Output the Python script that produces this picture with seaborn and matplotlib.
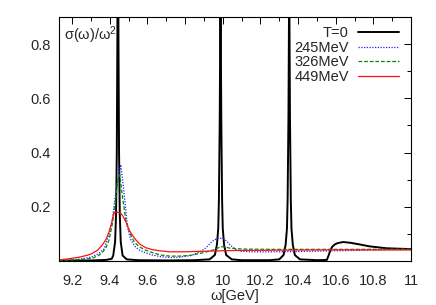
import matplotlib
matplotlib.use("Agg")
import matplotlib.pyplot as plt
import seaborn as sns
import pandas as pd
from matplotlib.ticker import MultipleLocator

# omega [GeV] and sigma/omega^2
omega_T0 = [9.13, 9.30, 9.38, 9.41, 9.418, 9.428, 9.433, 9.437, 9.44, 9.443, 9.446, 9.449,
            9.453, 9.458, 9.468, 9.49, 9.55, 9.70, 9.85, 9.93, 9.958, 9.969, 9.976, 9.9795,
            9.984, 9.988, 9.992, 9.9965, 10.0, 10.007, 10.018, 10.048, 10.10, 10.25, 10.30,
            10.323, 10.334, 10.341, 10.3445, 10.349, 10.353, 10.357, 10.3615, 10.365, 10.372,
            10.383, 10.41, 10.50, 10.553, 10.562, 10.572, 10.582, 10.595, 10.61, 10.64, 10.68,
            10.72, 10.78, 10.87, 10.95, 11.0]
sigma_T0 = [0.001, 0.002, 0.004, 0.008, 0.02, 0.07, 0.17, 0.4, 0.8, 1.6, 0.8, 0.4,
            0.17, 0.07, 0.02, 0.006, 0.003, 0.002, 0.003, 0.006, 0.022, 0.06, 0.12, 0.225,
            0.53, 1.05, 0.53, 0.225, 0.12, 0.06, 0.022, 0.006, 0.003, 0.003, 0.006,
            0.022, 0.06, 0.12, 0.225, 0.53, 1.05, 0.53, 0.225, 0.12, 0.06,
            0.022, 0.006, 0.003, 0.004, 0.02, 0.04, 0.053, 0.061, 0.066, 0.070, 0.067,
            0.062, 0.054, 0.047, 0.045, 0.044]

omega_245 = [9.13, 9.20, 9.25, 9.30, 9.34, 9.37, 9.396, 9.414, 9.431, 9.449, 9.458, 9.47,
             9.485, 9.493, 9.511, 9.535, 9.555, 9.59, 9.626, 9.67, 9.72, 9.77, 9.83, 9.88,
             9.91, 9.933, 9.955, 9.977, 9.995, 10.013, 10.03, 10.049, 10.07, 10.093, 10.15,
             10.25, 10.40, 10.55, 10.70, 10.85, 11.0]
sigma_245 = [0.002, 0.004, 0.008, 0.014, 0.027, 0.045, 0.1, 0.158, 0.25, 0.324, 0.355, 0.287,
             0.188, 0.127, 0.078, 0.053, 0.041, 0.03, 0.022, 0.016, 0.013, 0.014, 0.02, 0.034,
             0.048, 0.065, 0.078, 0.084, 0.083, 0.078, 0.066, 0.053, 0.042, 0.036, 0.034,
             0.034, 0.035, 0.037, 0.039, 0.041, 0.042]

omega_326 = [9.13, 9.20, 9.25, 9.307, 9.34, 9.36, 9.38, 9.396, 9.414, 9.431, 9.443, 9.453,
             9.467, 9.485, 9.511, 9.53, 9.555, 9.59, 9.626, 9.67, 9.72, 9.77, 9.83, 9.88,
             9.92, 9.951, 9.975, 9.99, 10.01, 10.04, 10.11, 10.25, 10.50, 10.75, 11.0]
sigma_326 = [0.002, 0.004, 0.006, 0.01, 0.02, 0.031, 0.05, 0.078, 0.139, 0.225, 0.305, 0.318,
             0.238, 0.151, 0.096, 0.07, 0.053, 0.04, 0.031, 0.022, 0.018, 0.018, 0.021, 0.028,
             0.035, 0.041, 0.048, 0.053, 0.052, 0.047, 0.044, 0.043, 0.043, 0.043, 0.044]

omega_449 = [9.13, 9.18, 9.236, 9.28, 9.307, 9.335, 9.36, 9.38, 9.396, 9.41, 9.423, 9.44,
             9.458, 9.47, 9.485, 9.502, 9.52, 9.538, 9.56, 9.591, 9.625, 9.662, 9.715, 9.80,
             9.90, 10.0, 10.1, 10.3, 10.6, 11.0]
sigma_449 = [0.004, 0.008, 0.014, 0.021, 0.028, 0.04, 0.059, 0.08, 0.108, 0.14, 0.18, 0.18,
             0.176, 0.165, 0.145, 0.115, 0.095, 0.078, 0.062, 0.049, 0.042, 0.038, 0.034, 0.034,
             0.036, 0.038, 0.039, 0.040, 0.041, 0.041]

sns.set_style("white")
plt.rcParams['font.family'] = ['Liberation Sans', 'DejaVu Sans']
plt.rcParams['mathtext.fontset'] = 'custom'
plt.rcParams['mathtext.rm'] = 'Liberation Sans'
plt.rcParams['mathtext.it'] = 'Liberation Sans'

FS = 10.5
fig = plt.figure(figsize=(4.36, 3.05), dpi=100)
ax = fig.add_axes([59/436, 44/305, 352/436, 244/305])

series = [
    ("T=0", omega_T0, sigma_T0, dict(color="black", lw=1.4, linestyle="-")),
    ("245MeV", omega_245, sigma_245, dict(color="#2020ff", lw=0.9, linestyle=(0, (1, 1.2)))),
    ("326MeV", omega_326, sigma_326, dict(color="#008a00", lw=0.9, linestyle=(0, (3, 1.5)))),
    ("449MeV", omega_449, sigma_449, dict(color="#ff1010", lw=0.9, linestyle="-")),
]
for name, w, s, style in series:
    df = pd.DataFrame({"omega": w, "sigma": s})
    sns.lineplot(data=df, x="omega", y="sigma", ax=ax, sort=False, estimator=None,
                 label=name, **style)

ax.set_xlim(9.13, 11.0)
ax.set_ylim(0, 0.9)
ax.xaxis.set_major_locator(MultipleLocator(0.2))
ax.xaxis.set_minor_locator(MultipleLocator(0.1))
ax.yaxis.set_minor_locator(MultipleLocator(0.1))
ax.set_yticks([0.2, 0.4, 0.6, 0.8])
ax.xaxis.set_major_formatter(matplotlib.ticker.FuncFormatter(lambda v, p: f"{v:g}"))
ax.tick_params(which="both", direction="in", top=True, right=True, labelsize=FS,
               color="black", width=0.7)
ax.tick_params(which="major", length=5)
ax.tick_params(which="minor", length=3)
ax.tick_params(axis="x", which="major", pad=9.5)
ax.tick_params(axis="y", which="major", pad=6)
for sp in ax.spines.values():
    sp.set_color("black")
    sp.set_linewidth(0.8)

ax.set_xlabel("ω[GeV]", fontsize=FS, labelpad=0.5)
ax.set_ylabel("")
ax.text(0.014, 0.968, r"$\mathrm{\sigma(\omega)/\omega^2}$", transform=ax.transAxes,
        ha="left", va="top", fontsize=FS)

ax.legend(loc="upper right", bbox_to_anchor=(1 - 12/352, 1 - 9/244), frameon=False,
          markerfirst=False, fontsize=FS, handlelength=2.8, handletextpad=0.65,
          labelspacing=0.05, borderpad=0, borderaxespad=0)

fig.savefig("out.png", dpi=100)
